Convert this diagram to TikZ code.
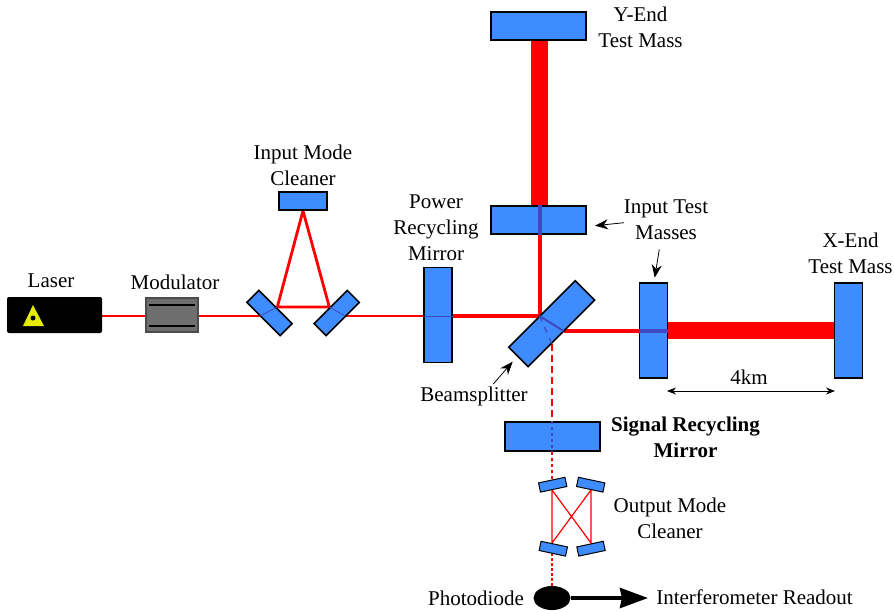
\documentclass[tikz,border=0pt]{standalone}
\usepackage{fontspec}
\setmainfont{Liberation Serif}
\usetikzlibrary{arrows.meta,backgrounds,shapes.geometric}
\definecolor{mirrorblue}{HTML}{3F8CFF}
\definecolor{innerblue}{HTML}{4048C0}
\tikzset{
    mirror/.style={draw=black,line width=0.75pt,fill=mirrorblue,inner sep=0pt,minimum width=#1},
    mirror/.default=95*0.5pt,
    label/.style={align=center,inner sep=0pt,font=\fontsize{10.5}{12.9}\selectfont},
    thinbeam/.style={red,line width=0.6pt},
    beam/.style={red,line width=2pt},
    fatbeam/.style={red,line width=8.5pt},
    innerbeam/.style={innerblue,line width=#1},
    pointer/.style={-{Stealth[length=6.5pt,width=5pt]},line width=0.4pt},
}
\begin{document}
\begin{tikzpicture}[x=0.5pt,y=-0.5pt]
    \useasboundingbox (0,0) rectangle (894,611);
    % source
    \node[fill=black,rounded corners=1pt,minimum width=47.5pt,minimum height=18pt,inner sep=0pt] (laser) at (54.5,315) {};
    \node[draw=black!70,line width=0.75pt,fill=black!57,minimum width=26pt,minimum height=17pt,inner sep=0pt] (modulator) at (172,315) {};
    \draw[black,line width=0.75pt] (149,305) -- (195,305) (149,326) -- (195,326);
    \fill[yellow!90!green] (33,305) -- (44,326) -- (23,326) -- cycle;
    \fill[black] (33,318) circle (2.5);
    % input mode cleaner
    \node[mirror=24pt,minimum height=9pt] (imc top) at (303,201) {};
    \node[mirror=23.5pt,minimum height=8.5pt,rotate=-45] (imc left) at (269.5,313) {};
    \node[mirror=23.5pt,minimum height=8.5pt,rotate=45] (imc right) at (336.7,313) {};
    % main mirrors
    \node[mirror,minimum height=14pt,rotate=90] (prm) at (438,315) {};
    \node[mirror,minimum height=14pt] (itm y) at (538.5,220) {};
    \node[mirror,minimum height=14pt] (etm y) at (538.5,26) {};
    \node[mirror,minimum height=14pt,rotate=90] (itm x) at (653.5,330.5) {};
    \node[mirror,minimum height=14pt,rotate=90] (etm x) at (848.5,330.5) {};
    \node[mirror=47pt,minimum height=13.7pt,rotate=45] (bs) at (551.7,323.7) {};
    \node[mirror,minimum height=14.5pt] (srm) at (552.5,436.5) {};
    % output mode cleaner
    \node[mirror=13.5pt,minimum height=4.7pt,line width=0.5pt,rotate=12] (omc a) at (552.7,484.7) {};
    \node[mirror=13.5pt,minimum height=4.7pt,line width=0.5pt,rotate=-12] (omc b) at (590.7,484.7) {};
    \node[mirror=13.5pt,minimum height=4.7pt,line width=0.5pt,rotate=-12] (omc c) at (553.3,548.7) {};
    \node[mirror=13.5pt,minimum height=4.7pt,line width=0.5pt,rotate=12] (omc d) at (591,548.7) {};
    \node[ellipse,fill=black,minimum width=18.5pt,minimum height=12pt,inner sep=0pt] (diode) at (552,598) {};
    % beam points
    \coordinate (imc l) at (277.3,307);
    \coordinate (imc r) at (329.3,307);
    \coordinate (imc l in) at (260,316);
    \coordinate (imc r out) at (345,316);
    \coordinate (bs in) at (539.5,316);
    \coordinate (bs out) at (563.5,331);
    \coordinate (bs dark) at (552,344);
    \coordinate (omc ta) at (552,490);
    \coordinate (omc tb) at (591,490);
    \coordinate (omc bc) at (552,543);
    \coordinate (omc bd) at (591,543);
    \begin{scope}[on background layer]
        \draw[thinbeam,line width=0.7pt] (laser.east |- imc l in) -- (modulator.west |- imc l in);
        \draw[thinbeam,line width=0.7pt] (modulator.east |- imc l in) -- (imc l in);
        \draw[thinbeam,line width=0.7pt] (imc r out) -- (prm.north |- imc r out);
        \draw[beam,line width=1.4pt] (imc top.south) -- (imc l) -- (imc r) -- cycle;
        \draw[beam] (prm.south |- bs in) -- (bs in) -- (bs in |- itm y.south);
        \draw[beam] (bs out) -- (itm x.north |- bs out);
        \draw[fatbeam] (bs in |- itm y.north) -- (bs in |- etm y.south);
        \draw[fatbeam] (itm x.south) -- (etm x.north);
        \draw[red,line width=0.75pt,dash pattern=on 3.5pt off 2pt] (bs dark) -- (srm.north -| bs dark);
        \draw[red,line width=0.6pt,dash pattern=on 1.5pt off 1.5pt] (srm.south -| bs dark) -- (omc ta);
        \draw[red,line width=0.6pt,dash pattern=on 1.5pt off 1pt] (omc bc) -- (diode.north);
        \draw[thinbeam] (omc ta) -- (omc bc) -- (omc tb) -- (omc bd) -- cycle;
    \end{scope}
    % beam seen through the optics
    \draw[innerbeam=0.4pt] (prm.north |- bs in) -- (prm.south |- bs in);
    \draw[innerbeam=0.4pt] (imc l in) -- (imc l);
    \draw[innerbeam=0.4pt] (imc r out) -- (imc r);
    \draw[innerbeam=2pt] (bs in |- itm y.north) -- (bs in |- itm y.south);
    \draw[innerbeam=2pt] (itm x.north) -- (itm x.south);
    \draw[innerbeam=1pt] (bs in) -- (bs out);
    \draw[innerbeam=0.6pt,dashed] (bs in) -- (bs dark);
    \draw[innerbeam=0.6pt,dash pattern=on 1.5pt off 1.5pt] (srm.north -| bs dark) -- (srm.south -| bs dark);
    % labels
    \node[label] (laser text) at (51,281) {Laser};
    \node[label] (modulator text) at (175,282) {Modulator};
    \node[label] (imc text) at (303,165) {Input Mode\\Cleaner};
    \node[label] (prm text) at (436,228) {Power\\Recycling\\Mirror};
    \node[label] (etm y text) at (640.5,27) {Y-End\\Test Mass};
    \node[label] (itm text) at (666,219.5) {Input Test\\Masses};
    \node[label] (etm x text) at (850.5,253) {X-End\\Test Mass};
    \node[label] (bs text) at (474,396) {Beamsplitter};
    \node[label,font=\fontsize{10.5}{12.9}\selectfont\bfseries] (srm text) at (685.5,437) {Signal Recycling\\Mirror};
    \node[label] (omc text) at (670,518) {Output Mode\\Cleaner};
    \node[label] (diode text) at (476,598) {Photodiode};
    \node[label] (readout) at (754.5,597) {Interferometer Readout};
    \node[label] (length text) at (749,377) {4km};
    % pointers
    \coordinate (arm a) at (667,391);
    \coordinate (arm b) at (835,391);
    \coordinate (itm y tail) at (624,222.7);
    \coordinate (itm y tip) at (595,225.7);
    \coordinate (itm x tail) at (659.3,249.3);
    \coordinate (itm x tip) at (654.7,277.7);
    \coordinate (bs tail) at (493.3,384);
    \coordinate (bs tip) at (512.7,361.7);
    \coordinate (readout tip) at (648,598);
    \draw[pointer] (itm y tail) -- (itm y tip);
    \draw[pointer] (itm x tail) -- (itm x tip);
    \draw[pointer] (bs tail) -- (bs tip);
    \draw[{Stealth[length=4.5pt,width=3.5pt]}-{Stealth[length=4.5pt,width=3.5pt]},line width=0.4pt] (arm a) -- (arm b);
    \draw[-{Stealth[length=14pt,width=10pt,inset=1pt]},line width=2pt] (diode.east) -- (readout tip);
\end{tikzpicture}
\end{document}
